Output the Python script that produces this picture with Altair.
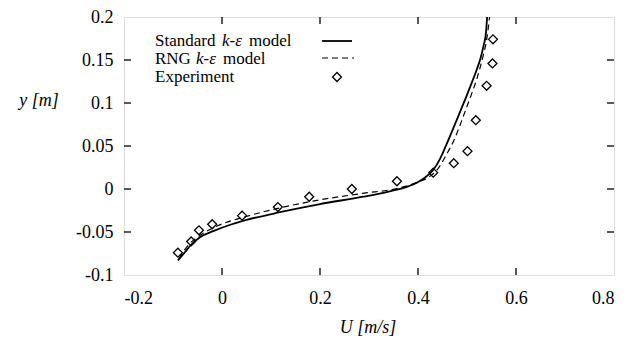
import altair as alt
import pandas as pd

# Experimental data (U [m/s], y [m])
exp_u = [-0.090, -0.063, -0.047, -0.020, 0.041, 0.114, 0.178, 0.265, 0.357,
         0.431, 0.473, 0.501, 0.518, 0.540, 0.552, 0.553]
exp_y = [-0.074, -0.061, -0.048, -0.041, -0.031, -0.021, -0.009, 0.000, 0.009,
         0.019, 0.030, 0.044, 0.080, 0.120, 0.146, 0.174]

# Standard k-epsilon model
std_u = [-0.090, -0.075, -0.065, -0.045, -0.018, 0.020, 0.050, 0.118, 0.200, 0.288,
         0.340, 0.380, 0.411, 0.431, 0.445, 0.459, 0.473, 0.486, 0.499, 0.510,
         0.520, 0.527, 0.534, 0.539, 0.541]
std_y = [-0.083, -0.073, -0.066, -0.056, -0.049, -0.041, -0.036, -0.027, -0.0175, -0.009,
         -0.003, 0.003, 0.012, 0.022, 0.035, 0.053, 0.072, 0.090, 0.108, 0.124,
         0.139, 0.151, 0.167, 0.183, 0.200]

# RNG k-epsilon model
rng_u = [-0.088, -0.070, -0.045, -0.010, 0.043, 0.118, 0.186, 0.288, 0.360, 0.400,
         0.425, 0.442, 0.458, 0.472, 0.485, 0.496, 0.509, 0.520, 0.533, 0.539,
         0.543, 0.546]
rng_y = [-0.081, -0.066, -0.054, -0.043, -0.033, -0.022, -0.014, -0.005, 0.001, 0.008,
         0.015, 0.0245, 0.040, 0.055, 0.073, 0.090, 0.110, 0.128, 0.155, 0.170,
         0.185, 0.200]

x_ticks = [-0.2, 0, 0.2, 0.4, 0.6, 0.8]
y_ticks = [-0.1, -0.05, 0, 0.05, 0.1, 0.15, 0.2]
x_inner = [0, 0.2, 0.4, 0.6]
y_inner = [-0.05, 0, 0.05, 0.1, 0.15]

W, H = 490, 258
FONT = "Liberation Serif"
FS = 18
LFS = 17
TL = 7

std_df = pd.DataFrame({"u": std_u, "y": std_y, "i": range(len(std_u))})
rng_df = pd.DataFrame({"u": rng_u, "y": rng_y, "i": range(len(rng_u))})
exp_df = pd.DataFrame({"u": exp_u, "y": exp_y})
xt_df = pd.DataFrame({"u": x_inner})
yt_df = pd.DataFrame({"y": y_inner})

xs = alt.Scale(domain=[-0.2, 0.8], nice=False, zero=False)
ys = alt.Scale(domain=[-0.1, 0.2], nice=False, zero=False)

x_axis = alt.Axis(values=x_ticks, labelExpr="'' + datum.value", title=None,
                  domain=False, ticks=False, grid=False, labelFont=FONT,
                  labelFontSize=FS, labelPadding=14, labelColor="black")
y_axis = alt.Axis(values=y_ticks, labelExpr="'' + datum.value", title=None,
                  domain=False, ticks=False, grid=False, labelFont=FONT,
                  labelFontSize=FS, labelPadding=11, labelColor="black")

X = alt.X("u:Q", scale=xs, axis=x_axis)
Y = alt.Y("y:Q", scale=ys, axis=y_axis)

std_line = alt.Chart(std_df).mark_line(color="black", strokeWidth=1.8,
                                       interpolate="monotone").encode(
    x=X, y=Y, order="i:Q")
rng_line = alt.Chart(rng_df).mark_line(color="black", strokeWidth=1.2,
                                       strokeDash=[6, 4],
                                       interpolate="monotone").encode(
    x=X, y=Y, order="i:Q")
exp_pts = alt.Chart(exp_df).mark_point(shape="diamond", size=80, filled=False,
                                       color="black", strokeWidth=1.3,
                                       opacity=1).encode(x=X, y=Y)

# inward ticks on all four sides
tick_b = alt.Chart(xt_df).mark_rule(color="black", strokeWidth=1.3).encode(
    x=X, y=alt.value(H), y2=alt.value(H - TL))
tick_t = alt.Chart(xt_df).mark_rule(color="black", strokeWidth=1.3).encode(
    x=X, y=alt.value(0), y2=alt.value(TL))
tick_l = alt.Chart(yt_df).mark_rule(color="black", strokeWidth=1.3).encode(
    y=Y, x=alt.value(0), x2=alt.value(TL))
tick_r = alt.Chart(yt_df).mark_rule(color="black", strokeWidth=1.3).encode(
    y=Y, x=alt.value(W), x2=alt.value(W - TL))

# legend (label left, sample right)
leg_up = pd.DataFrame({
    "t": ["Standard", "model", "RNG", "model", "Experiment"],
    "px": [31, 125, 31, 99, 31],
    "py": [29, 29, 47, 47, 65],
})
leg_it = pd.DataFrame({
    "t": ["k-ε", "k-ε"],
    "px": [98, 72],
    "py": [29, 47],
})
leg_text_up = alt.Chart(leg_up).mark_text(align="left", baseline="alphabetic",
                                          font=FONT, fontSize=LFS, color="black").encode(
    x=alt.X("px:Q", scale=None), y=alt.Y("py:Q", scale=None), text="t:N")
leg_text_it = alt.Chart(leg_it).mark_text(align="left", baseline="alphabetic",
                                          font=FONT, fontSize=LFS, fontStyle="italic",
                                          color="black").encode(
    x=alt.X("px:Q", scale=None), y=alt.Y("py:Q", scale=None), text="t:N")
one = pd.DataFrame({"k": [0]})
leg_solid = alt.Chart(one).mark_rule(color="black", strokeWidth=1.8).encode(
    x=alt.value(198), x2=alt.value(228), y=alt.value(24))
leg_dash = alt.Chart(one).mark_rule(color="black", strokeWidth=1.2,
                                    strokeDash=[6, 4]).encode(
    x=alt.value(198), x2=alt.value(230), y=alt.value(41))
leg_pt = alt.Chart(one).mark_point(shape="diamond", size=80, filled=False,
                                   color="black", strokeWidth=1.3,
                                   opacity=1).encode(
    x=alt.value(213), y=alt.value(60))

# axis titles
titles = pd.DataFrame({"t": ["y [m]", "U [m/s]"], "px": [-85, 244], "py": [89, 316]})
title_text = alt.Chart(titles).mark_text(align="center", baseline="alphabetic", font=FONT,
                                         fontSize=FS, fontStyle="italic",
                                         color="black").encode(
    x=alt.X("px:Q", scale=None), y=alt.Y("py:Q", scale=None), text="t:N")

chart = alt.layer(
    std_line, rng_line, exp_pts, tick_b, tick_t, tick_l, tick_r,
    leg_text_up, leg_text_it, leg_solid, leg_dash, leg_pt, title_text,
).properties(
    width=W, height=H,
    autosize=alt.AutoSizeParams(type="none"),
    padding={"left": 116, "top": 9, "right": 5, "bottom": 63},
).configure_view(
    stroke="black", strokeWidth=1.5
).configure(background="white")

chart.save("out.html", embed_options={"renderer": "svg", "actions": False})
